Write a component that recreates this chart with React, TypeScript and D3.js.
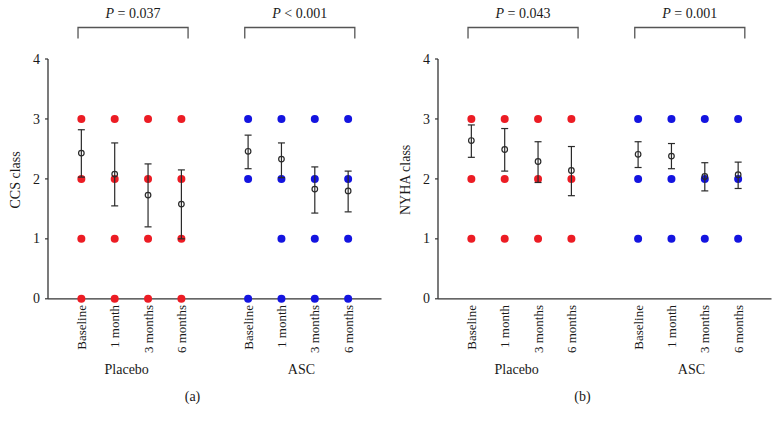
import React from "react";
import * as d3 from "d3";

const categories = ["Baseline", "1 month", "3 months", "6 months"];
const groups = ["Placebo", "ASC"];
const yTicks = [0, 1, 2, 3, 4];

// CCS panel (a)
const ccsMean = [2.43, 2.08, 1.73, 1.58, 2.46, 2.33, 1.83, 1.8];
const ccsLow = [2.03, 1.55, 1.2, 1.0, 2.17, 2.02, 1.43, 1.45];
const ccsHigh = [2.82, 2.6, 2.25, 2.15, 2.73, 2.6, 2.2, 2.13];
const ccsDots = [
  [0, 1, 2, 3], [0, 1, 2, 3], [0, 1, 2, 3], [0, 1, 2, 3],
  [0, 2, 3], [0, 1, 2, 3], [0, 1, 2, 3], [0, 1, 2, 3],
];
const ccsP = ["P = 0.037", "P < 0.001"];

// NYHA panel (b)
const nyhaMean = [2.64, 2.49, 2.29, 2.14, 2.41, 2.38, 2.04, 2.07];
const nyhaLow = [2.36, 2.13, 1.94, 1.72, 2.19, 2.17, 1.8, 1.84];
const nyhaHigh = [2.9, 2.84, 2.62, 2.54, 2.62, 2.59, 2.27, 2.28];
const nyhaDots = [
  [1, 2, 3], [1, 2, 3], [1, 2, 3], [1, 2, 3],
  [1, 2, 3], [1, 2, 3], [1, 2, 3], [1, 2, 3],
];
const nyhaP = ["P = 0.043", "P = 0.001"];

const slots = [1, 2, 3, 4, 6, 7, 8, 9];
const groupColors = ["#ec1c24", "#1414e0"];
const FONT = "'Liberation Serif', 'Times New Roman', serif";

interface PanelProps {
  offsetX: number;
  yLabel: string;
  tag: string;
  mean: number[];
  low: number[];
  high: number[];
  dots: number[][];
  pTexts: string[];
}

function Panel({ offsetX, yLabel, tag, mean, low, high, dots, pTexts }: PanelProps) {
  const x = d3.scaleLinear().domain([0, 10]).range([48, 381.5]);
  const y = d3.scaleLinear().domain([0, 4]).range([298.8, 59]);
  const brackets = [
    [0.9, 4.2],
    [5.9, 9.2],
  ];
  const groupLabelPos = [2.36, 7.6];
  const axisColor = "#333";
  return (
    <g transform={`translate(${offsetX},0)`} fontFamily={FONT} fill="#1a1a1a">
      {brackets.map((b, i) => (
        <g key={"br" + i}>
          <path
            d={`M${x(b[0])},38.5V27.5H${x(b[1])}V38.5`}
            fill="none"
            stroke="#555"
            strokeWidth={1.3}
          />
          <text x={(x(b[0]) + x(b[1])) / 2} y={18} textAnchor="middle" fontSize={14}>
            <tspan fontStyle="italic">{pTexts[i].slice(0, 1)}</tspan>
            {pTexts[i].slice(1)}
          </text>
        </g>
      ))}
      <line x1={x(0)} x2={x(0)} y1={y(4)} y2={y(0)} stroke={axisColor} strokeWidth={1.3} />
      <line x1={x(0)} x2={x(10)} y1={y(0)} y2={y(0)} stroke={axisColor} strokeWidth={1.3} />
      {yTicks.map((t) => (
        <g key={"t" + t}>
          <line x1={x(0) - 3} x2={x(0)} y1={y(t)} y2={y(t)} stroke={axisColor} strokeWidth={1.2} />
          <text x={x(0) - 8} y={y(t)} dy="0.33em" textAnchor="end" fontSize={14}>
            {t}
          </text>
        </g>
      ))}
      <text
        transform={`translate(20,${(y(4) + y(0)) / 2 + 1}) rotate(-90)`}
        textAnchor="middle"
        fontSize={14}
      >
        {yLabel}
      </text>
      {slots.map((s, i) =>
        dots[i].map((v) => (
          <circle
            key={`d${i}-${v}`}
            cx={x(s)}
            cy={y(v)}
            r={4}
            fill={groupColors[i < 4 ? 0 : 1]}
          />
        ))
      )}
      {slots.map((s, i) => (
        <g key={"e" + i} stroke="#2a2a2a" strokeWidth={1.2} fill="none">
          <line x1={x(s)} x2={x(s)} y1={y(low[i])} y2={y(high[i])} />
          <line x1={x(s) - 3.5} x2={x(s) + 3.5} y1={y(low[i])} y2={y(low[i])} />
          <line x1={x(s) - 3.5} x2={x(s) + 3.5} y1={y(high[i])} y2={y(high[i])} />
          <circle cx={x(s)} cy={y(mean[i])} r={2.8} fill="none" />
        </g>
      ))}
      {slots.map((s, i) => (
        <text
          key={"c" + i}
          transform={`translate(${x(s) + 4.5},305) rotate(-90)`}
          textAnchor="end"
          fontSize={13}
        >
          {categories[i % 4]}
        </text>
      ))}
      {groups.map((g, i) => (
        <text key={"g" + i} x={x(groupLabelPos[i])} y={374} textAnchor="middle" fontSize={14}>
          {g}
        </text>
      ))}
      <text x={192.5} y={401} textAnchor="middle" fontSize={14}>
        {tag}
      </text>
    </g>
  );
}

export default function App() {
  return (
    <svg
      width={780}
      height={423}
      style={{ position: "absolute", left: 0, top: 0, background: "white" }}
    >
      <rect width={780} height={423} fill="white" />
      <Panel
        offsetX={0}
        yLabel="CCS class"
        tag="(a)"
        mean={ccsMean}
        low={ccsLow}
        high={ccsHigh}
        dots={ccsDots}
        pTexts={ccsP}
      />
      <Panel
        offsetX={390}
        yLabel="NYHA class"
        tag="(b)"
        mean={nyhaMean}
        low={nyhaLow}
        high={nyhaHigh}
        dots={nyhaDots}
        pTexts={nyhaP}
      />
    </svg>
  );
}
